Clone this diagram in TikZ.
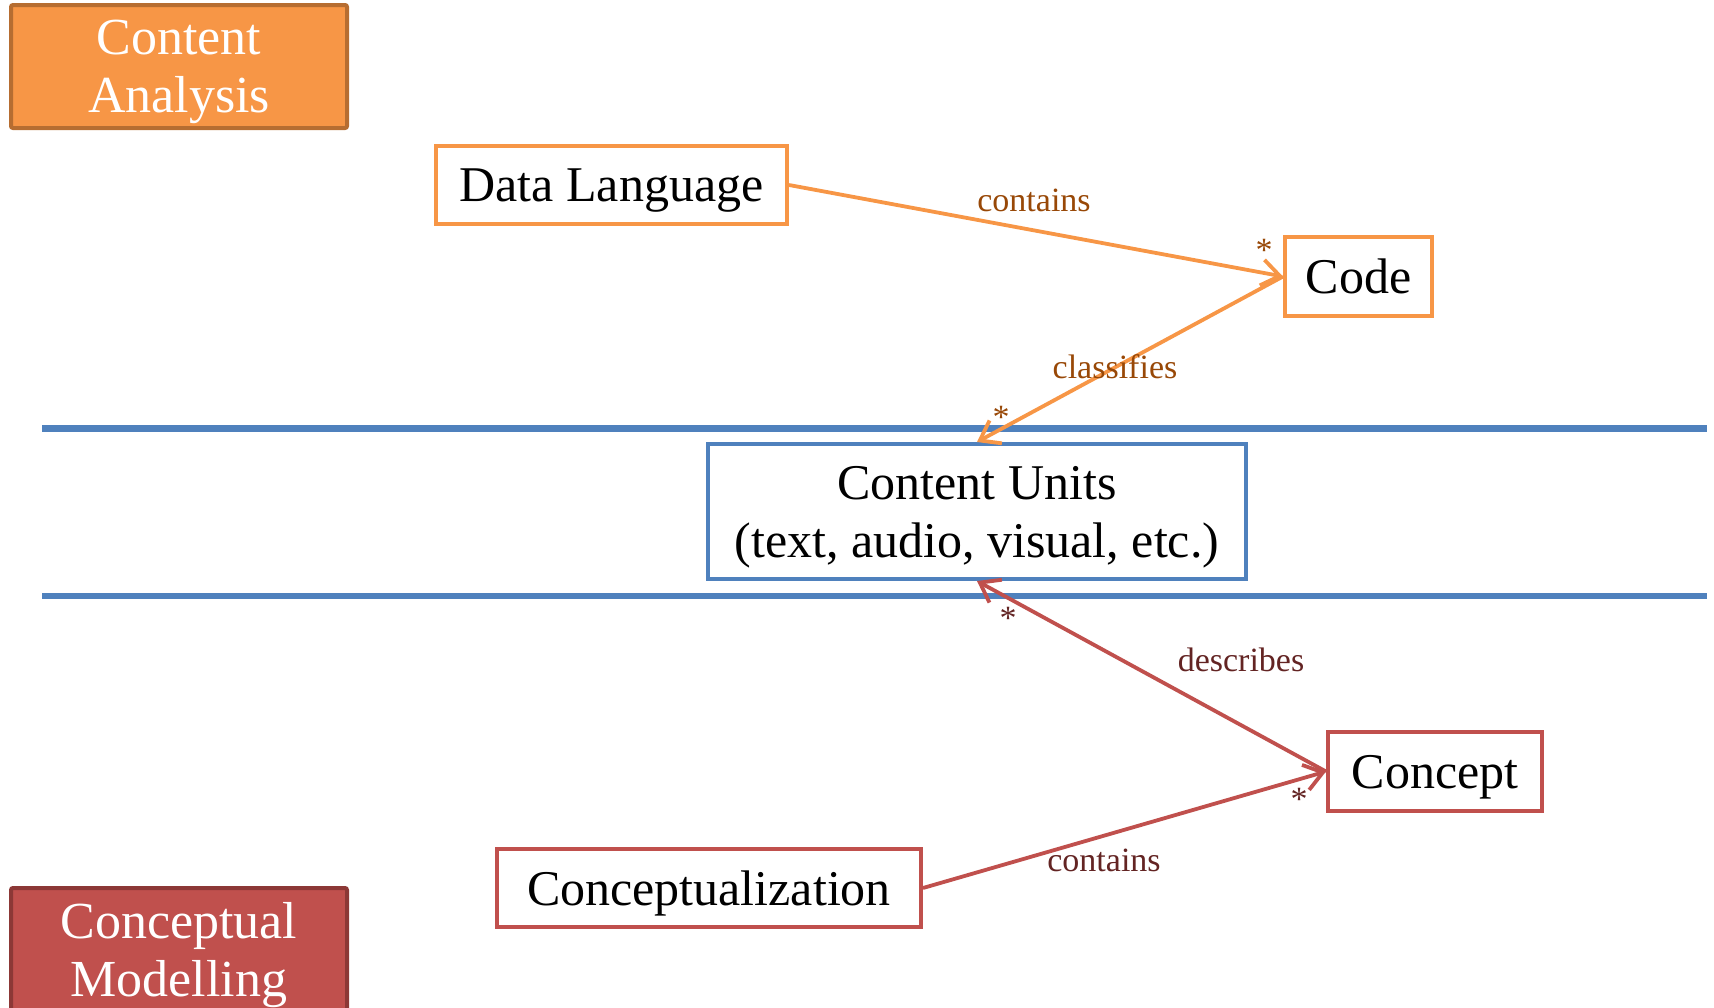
\documentclass[tikz,border=0pt]{standalone}
\usepackage{fontspec}
\setmainfont{Liberation Serif}
\usetikzlibrary{arrows.meta}

\definecolor{caorange}{HTML}{F79646}
\definecolor{caedge}{HTML}{B66D31}
\definecolor{cmred}{HTML}{C0504D}
\definecolor{cmedge}{HTML}{8C3836}
\definecolor{cublue}{HTML}{4F81BD}
\definecolor{calbl}{HTML}{984807}
\definecolor{cmlbl}{HTML}{632423}

\tikzset{
  headbox/.style={draw, line width=2pt, rounded corners=1pt, text=white, align=center,
    font=\fontsize{26}{29}\selectfont, inner sep=0pt, text depth=0pt},
  cabox/.style={headbox, fill=caorange, draw=caedge},
  cmbox/.style={headbox, fill=cmred, draw=cmedge},
  entity/.style={draw, line width=2pt, fill=white, align=center, inner sep=0pt,
    font=\fontsize{25}{29}\selectfont, text depth=0pt},
  orbox/.style={entity, draw=caorange},
  rdbox/.style={entity, draw=cmred},
  bluebox/.style={entity, draw=cublue},
  assoc/.style={line width=1.9pt, -{Straight Barb[length=9pt,width=13pt,line width=1.9pt]}},
  orassoc/.style={assoc, draw=caorange},
  rdassoc/.style={assoc, draw=cmred},
  orlbl/.style={text=calbl, font=\fontsize{17}{20}\selectfont, inner sep=0pt},
  rdlbl/.style={text=cmlbl, font=\fontsize{17}{20}\selectfont, inner sep=0pt},
  band/.style={draw=cublue, line width=3.3pt}
}

\begin{document}
\begin{tikzpicture}[x=0.5pt, y=-0.5pt]
\useasboundingbox (0,0) rectangle (1714,1007);
\clip (0,0) rectangle (1714,1007);

% layer bands
\coordinate (b1l) at (42,428.5);
\coordinate (b1r) at (1707,428.5);
\coordinate (b2l) at (42,596);
\coordinate (b2r) at (1707,596);
\draw[band] (b1l) -- (b1r);
\draw[band] (b2l) -- (b2r);

% headers
\node[cabox, minimum width=168pt, minimum height=61.5pt] (ca) at (179,66.5) {Content\\Analysis};
\node[cmbox, minimum width=168pt, minimum height=61.5pt] (cm) at (179,949.5) {Conceptual\\Modelling};

% entities
\node[orbox, minimum width=175.5pt, minimum height=39pt] (dl) at (611.5,185) {Data Language};
\node[orbox, minimum width=73.5pt, minimum height=39.5pt] (code) at (1358.5,276.5) {Code};
\node[bluebox, minimum width=269pt, minimum height=67.5pt] (cu) at (977,511.5) {Content Units\\(text, audio, visual, etc.)};
\node[rdbox, minimum width=107pt, minimum height=39.5pt] (concept) at (1435,771.5) {Concept};
\node[rdbox, minimum width=212pt, minimum height=39pt] (cz) at (709,888) {Conceptualization};

% associations
\draw[orassoc] (dl.east) -- (code.west);
\draw[orassoc] (code.west) -- (cu.north);
\draw[rdassoc] (concept.west) -- (cu.south);
\draw[rdassoc] (cz.east) -- (concept.west);

% labels
\node[orlbl] (lcontains) at (1034,200) {contains};
\node[orlbl] (lclass) at (1115,367) {classifies};
\node[orlbl] (s1) at (1264,250) {*};
\node[orlbl] (s2) at (1001,417) {*};
\node[rdlbl] (ldescr) at (1241,660) {describes};
\node[rdlbl] (lcont2) at (1104,860) {contains};
\node[rdlbl] (s3) at (1008,618) {*};
\node[rdlbl] (s4) at (1299,799) {*};
\end{tikzpicture}
\end{document}
